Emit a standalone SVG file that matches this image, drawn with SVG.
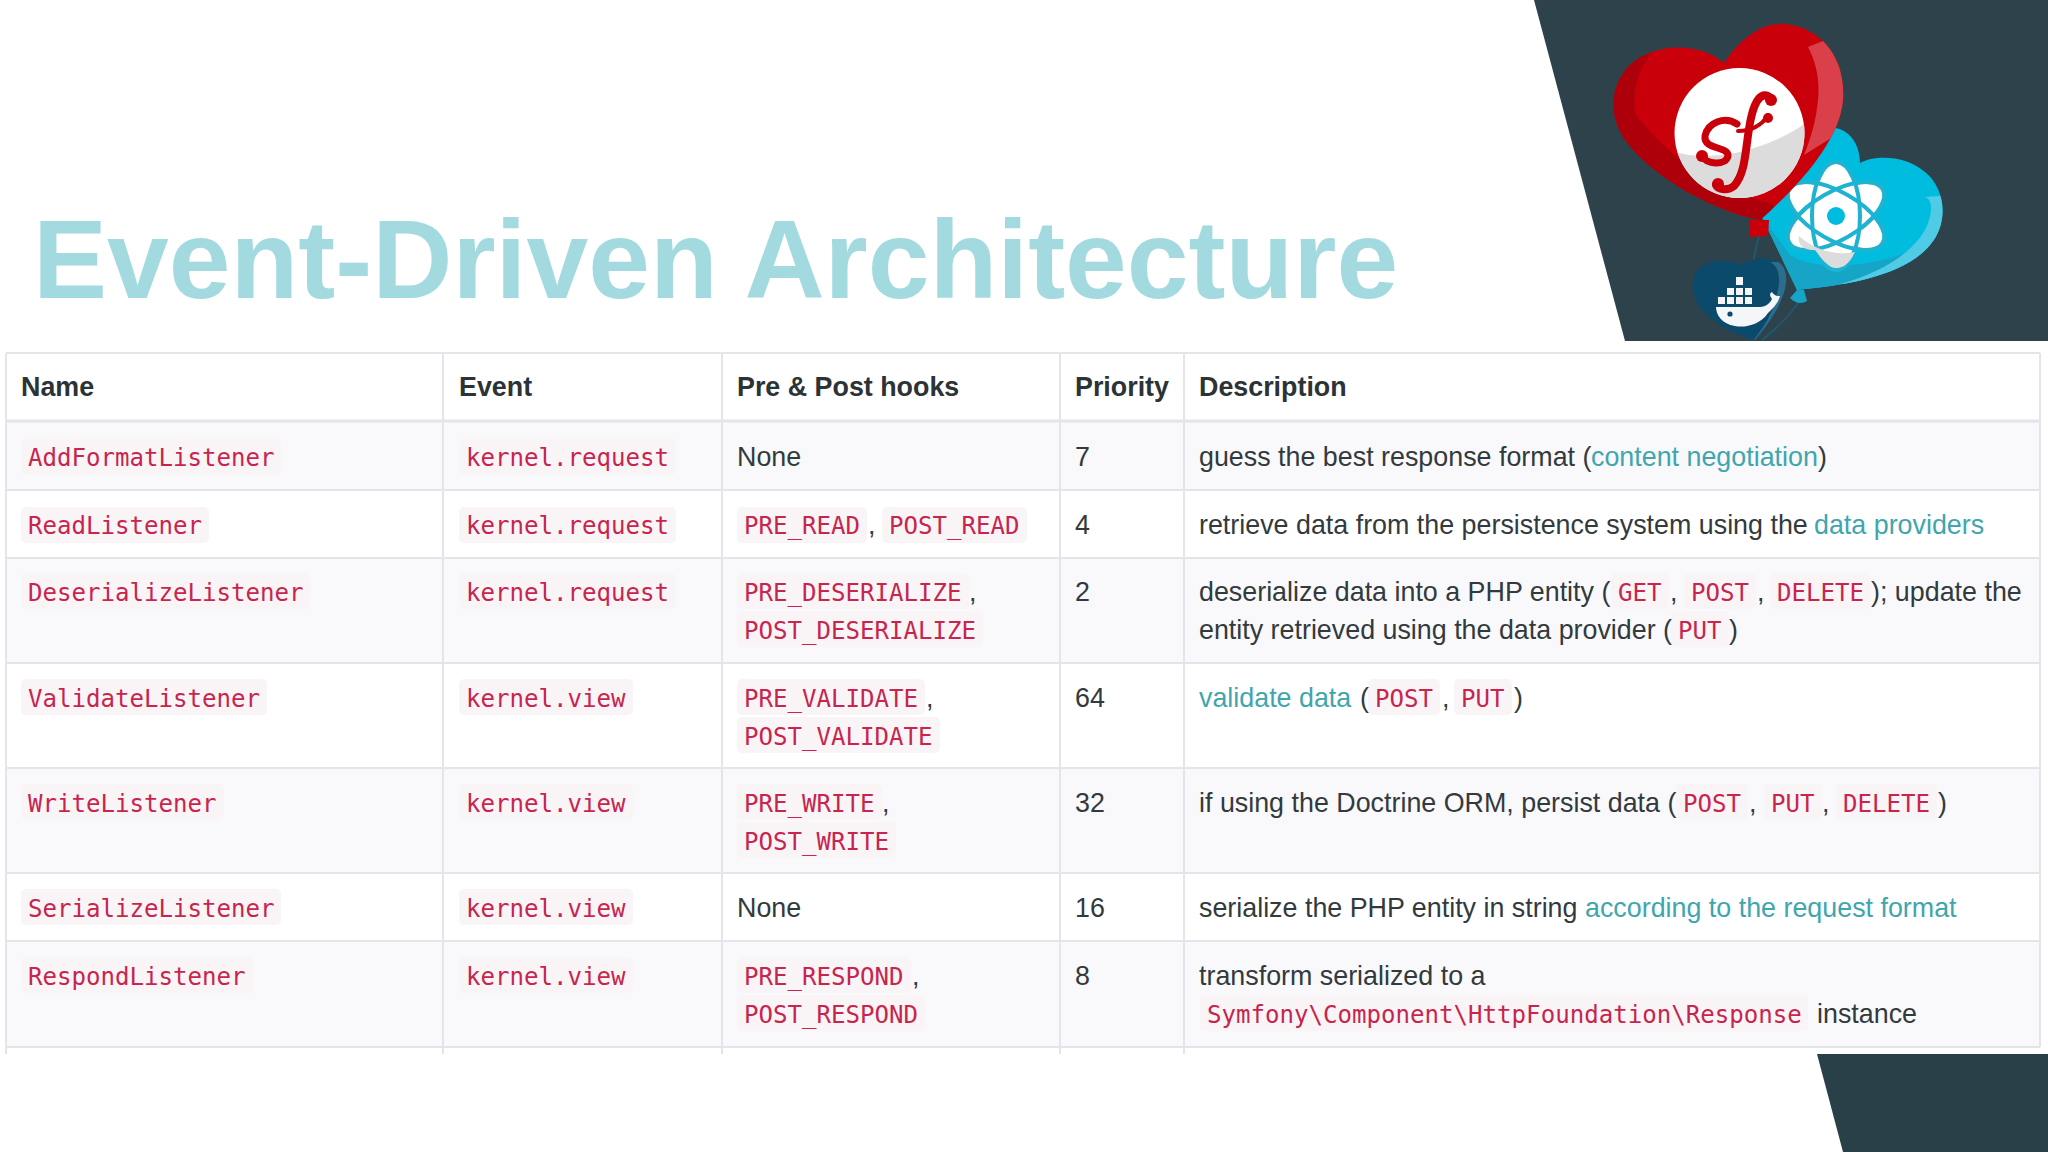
<svg xmlns="http://www.w3.org/2000/svg" width="2048" height="1152" viewBox="0 0 2048 1152">
<defs>
<style>
text{font-family:"Liberation Sans",Arial,sans-serif;font-size:26.85px;fill:#333a3d}
.h{font-weight:bold;fill:#2c3336}
.m{font-family:"DejaVu Sans Mono","Liberation Mono",monospace;font-size:24.1px;fill:#c7254e}
.l{fill:#3fa6ae}
.c{fill:#f9f5f7}
.g{fill:none;stroke:#e4e4ea;stroke-width:2}
.t{font-size:111px;font-weight:bold;fill:#a3dae0}
.p{fill:#2d424b}
</style>
<clipPath id="redClip"><path d="M1724 63C1745 32 1768 22 1785 24C1825 28 1846 62 1843 100C1840 140 1800 185 1760 220C1710 210 1650 175 1625 140C1608 115 1610 85 1630 65C1655 42 1700 42 1724 63Z"/></clipPath>
<clipPath id="sfClip"><circle cx="1739.5" cy="133" r="65"/></clipPath>
<clipPath id="blueClip"><path d="M1797 290L1762 217L1835 128C1850 130 1860 145 1860 163C1875 155 1905 155 1925 172C1947 190 1948 225 1930 245C1905 275 1850 285 1797 290Z"/></clipPath>
<clipPath id="dockClip"><path d="M1741 265C1750 258 1772 254 1782 265C1792 278 1785 305 1755 340C1735 335 1705 320 1696 300C1688 282 1695 265 1712 262C1722 260 1733 260 1741 265Z"/></clipPath>
</defs>
<rect width="2048" height="1152" fill="#fff"/>

<g id="panels">
<path class="p" d="M1534 0H2048V341H1625Z"/>
<path class="p" d="M1817 1054H2048V1152H1843Z" style="fill:#2a4048"/>
</g>

<g id="balloons">
<path d="M1760 232C1750 270 1745 300 1752 340M1800 300C1790 315 1775 330 1762 340" fill="none" stroke="#24566e" stroke-width="2"/>
<g id="docker-balloon">
<path d="M1741 265C1750 258 1772 254 1782 265C1792 278 1785 305 1755 340C1735 335 1705 320 1696 300C1688 282 1695 265 1712 262C1722 260 1733 260 1741 265Z" fill="#0b4a6b"/>
<g clip-path="url(#dockClip)"><path d="M1770 262C1782 268 1780 285 1776 298C1772 315 1762 330 1752 342L1790 342L1800 262Z" fill="#2c6c8c"/></g>
<path d="M1716 307H1760C1766 307 1770 303 1772 299C1769 295 1770 293 1772 292C1775 297 1780 296 1780 296C1778 304 1772 309 1768 313C1760 325 1745 328 1735 326C1722 324 1716 315 1716 307Z" fill="#f4f6f8"/>
<circle cx="1730" cy="314" r="2.6" fill="#0b4a6b"/>
<g fill="#f4f6f8">
<rect x="1718" y="297" width="7" height="7"/><rect x="1727" y="297" width="7" height="7"/><rect x="1736" y="297" width="7" height="7"/><rect x="1745" y="297" width="7" height="7"/>
<rect x="1727" y="288" width="7" height="7"/><rect x="1736" y="288" width="7" height="7"/><rect x="1745" y="288" width="7" height="7"/>
<rect x="1736" y="277" width="7" height="8"/>
</g>
</g>
<g id="react-balloon">
<path d="M1797 290L1762 217L1835 128C1850 130 1860 145 1860 163C1875 155 1905 155 1925 172C1947 190 1948 225 1930 245C1905 275 1850 285 1797 290Z" fill="#00bde0"/>
<g clip-path="url(#blueClip)">
<path d="M1762 217L1790 255C1815 270 1860 268 1900 255C1915 250 1925 245 1935 235L1950 300H1780Z" fill="#16a5c6"/>
<path d="M1925 197C1934 200 1932 215 1926 228C1915 250 1885 272 1840 284L1940 290L1955 195Z" fill="#4fcbe6"/>
</g>
<path d="M1797 290L1790 298C1796 304 1802 304 1807 301L1804 290Z" fill="#16a5c6"/>
<g fill="#fff" stroke="#1eb3d0" stroke-width="4">
<ellipse cx="1836" cy="216" rx="54" ry="24" transform="rotate(30 1836 216)"/>
<ellipse cx="1836" cy="216" rx="54" ry="24" transform="rotate(-30 1836 216)"/>
<ellipse cx="1836" cy="216" rx="24" ry="54"/>
</g>
<g fill="none" stroke="#1eb3d0" stroke-width="4">
<ellipse cx="1836" cy="216" rx="54" ry="24" transform="rotate(30 1836 216)"/>
<ellipse cx="1836" cy="216" rx="54" ry="24" transform="rotate(-30 1836 216)"/>
</g>
<path d="M1799 236C1815 250 1835 256 1855 252C1850 262 1845 268 1836 268C1825 266 1820 256 1815 250C1805 250 1797 246 1799 236Z" fill="#dcdcdc"/>
<circle cx="1836" cy="216" r="9" fill="#00bde0"/>
</g>
<g id="symfony-balloon">
<path d="M1749 220H1769L1768 236L1750 237Z" fill="#c9000a"/>
<path d="M1724 63C1745 32 1768 22 1785 24C1825 28 1846 62 1843 100C1840 140 1800 185 1760 220C1710 210 1650 175 1625 140C1608 115 1610 85 1630 65C1655 42 1700 42 1724 63Z" fill="#c9000a"/>
<g clip-path="url(#redClip)">
<path d="M1600 50L1650 55C1635 75 1632 100 1636 115C1660 145 1700 185 1775 205L1755 230L1600 180Z" fill="#ae000a"/>
<path d="M1808 47C1816 62 1820 80 1818 100C1816 120 1812 135 1804 155L1860 120L1850 30Z" fill="#d9404a"/>
</g>
<circle cx="1739.5" cy="133" r="65" fill="#fff"/>
<g clip-path="url(#sfClip)"><path d="M1670 150C1710 165 1770 150 1810 120V210H1670Z" fill="#dcdcdc"/></g>
<g fill="none" stroke="#c9000a" stroke-linecap="round">
<path d="M1771 98C1762 90 1755 100 1751 118C1745 145 1747 172 1734 186C1728 191 1718 190 1716 185" stroke-width="8"/>
<path d="M1737 124C1725 116 1708 122 1705 136C1703 150 1729 146 1728 156C1726 166 1706 165 1701 155" stroke-width="7"/>
<path d="M1738 131C1750 131 1762 126 1768 115" stroke-width="4"/>
</g>
<g fill="#c9000a"><circle cx="1771" cy="100" r="6"/><circle cx="1768" cy="118" r="5"/><circle cx="1702" cy="156" r="6"/><circle cx="1718" cy="184" r="6"/></g>
</g>
</g>

<text class="t" x="33" y="298">Event-Driven Architecture</text>

<g id="table">
<rect x="6" y="421" width="2034" height="69" fill="#f9f9fb"/>
<rect x="6" y="558" width="2034" height="105" fill="#f9f9fb"/>
<rect x="6" y="768" width="2034" height="105" fill="#f9f9fb"/>
<rect x="6" y="941" width="2034" height="106" fill="#f9f9fb"/>
<path class="g" d="M6 353H2040M6 490H2040M6 558H2040M6 663H2040M6 768H2040M6 873H2040M6 941H2040M6 1047H2040"/>
<path class="g" style="stroke-width:3" d="M6 421H2040"/>
<path class="g" d="M6 353V1054M443 353V1054M722 353V1054M1060 353V1054M1184 353V1054M2040 353V1047"/>
</g>

<g id="chips">
<rect class="c" x="21" y="439" width="260" height="36" rx="5"/><rect class="c" x="459" y="439" width="217" height="36" rx="5"/>
<rect class="c" x="21" y="507" width="188" height="36" rx="5"/><rect class="c" x="459" y="507" width="217" height="36" rx="5"/>
<rect class="c" x="737" y="507" width="130" height="36" rx="5"/><rect class="c" x="882" y="507" width="145" height="36" rx="5"/>
<rect class="c" x="21" y="573" width="289" height="36" rx="5"/><rect class="c" x="459" y="573" width="217" height="36" rx="5"/>
<rect class="c" x="737" y="573" width="232" height="36" rx="5"/><rect class="c" x="737" y="611" width="246" height="36" rx="5"/>
<rect class="c" x="1611" y="573" width="58" height="36" rx="5"/><rect class="c" x="1684" y="573" width="72" height="36" rx="5"/><rect class="c" x="1770" y="573" width="101" height="36" rx="5"/><rect class="c" x="1671" y="611" width="58" height="36" rx="5"/>
<rect class="c" x="21" y="679" width="246" height="36" rx="5"/><rect class="c" x="459" y="679" width="174" height="36" rx="5"/>
<rect class="c" x="737" y="679" width="188" height="36" rx="5"/><rect class="c" x="737" y="717" width="203" height="36" rx="5"/>
<rect class="c" x="1368" y="679" width="72" height="36" rx="5"/><rect class="c" x="1454" y="679" width="58" height="36" rx="5"/>
<rect class="c" x="21" y="784" width="203" height="36" rx="5"/><rect class="c" x="459" y="784" width="174" height="36" rx="5"/>
<rect class="c" x="737" y="784" width="145" height="36" rx="5"/><rect class="c" x="737" y="822" width="159" height="36" rx="5"/>
<rect class="c" x="1676" y="784" width="72" height="36" rx="5"/><rect class="c" x="1764" y="784" width="58" height="36" rx="5"/><rect class="c" x="1836" y="784" width="101" height="36" rx="5"/>
<rect class="c" x="21" y="889" width="260" height="36" rx="5"/><rect class="c" x="459" y="889" width="174" height="36" rx="5"/>
<rect class="c" x="21" y="957" width="232" height="36" rx="5"/><rect class="c" x="459" y="957" width="174" height="36" rx="5"/>
<rect class="c" x="737" y="957" width="174" height="36" rx="5"/><rect class="c" x="737" y="995" width="188" height="36" rx="5"/>
<rect class="c" x="1200" y="995" width="608" height="36" rx="5"/>
</g>

<g id="header">
<text class="h" x="21" y="396">Name</text><text class="h" x="459" y="396">Event</text><text class="h" x="737" y="396">Pre &amp; Post hooks</text><text class="h" x="1075" y="396">Priority</text><text class="h" x="1199" y="396">Description</text>
</g>
<g id="row1">
<text class="m" x="28" y="466">AddFormatListener</text><text class="m" x="466" y="466">kernel.request</text><text x="737" y="466">None</text><text x="1075" y="466">7</text>
<text x="1199" y="466">guess the best response format (</text><text class="l" x="1591" y="466">content negotiation</text><text x="1818" y="466">)</text>
</g>
<g id="row2">
<text class="m" x="28" y="534">ReadListener</text><text class="m" x="466" y="534">kernel.request</text><text class="m" x="744" y="534">PRE_READ</text><text x="868" y="534">,</text><text class="m" x="889" y="534">POST_READ</text><text x="1075" y="534">4</text>
<text x="1199" y="534">retrieve data from the persistence system using the</text><text class="l" x="1814" y="534">data providers</text>
</g>
<g id="row3">
<text class="m" x="28" y="601">DeserializeListener</text><text class="m" x="466" y="601">kernel.request</text><text class="m" x="744" y="601">PRE_DESERIALIZE</text><text x="969" y="601">,</text><text class="m" x="744" y="639">POST_DESERIALIZE</text><text x="1075" y="601">2</text>
<text x="1199" y="601">deserialize data into a PHP entity (</text><text class="m" x="1618" y="601">GET</text><text x="1670" y="601">,</text><text class="m" x="1691" y="601">POST</text><text x="1757" y="601">,</text><text class="m" x="1777" y="601">DELETE</text><text x="1871" y="601">); update the</text>
<text x="1199" y="639">entity retrieved using the data provider (</text><text class="m" x="1678" y="639">PUT</text><text x="1729" y="639">)</text>
</g>
<g id="row4">
<text class="m" x="28" y="707">ValidateListener</text><text class="m" x="466" y="707">kernel.view</text><text class="m" x="744" y="707">PRE_VALIDATE</text><text x="926" y="707">,</text><text class="m" x="744" y="745">POST_VALIDATE</text><text x="1075" y="707">64</text>
<text class="l" x="1199" y="707">validate data</text><text x="1360" y="707">(</text><text class="m" x="1375" y="707">POST</text><text x="1442" y="707">,</text><text class="m" x="1461" y="707">PUT</text><text x="1514" y="707">)</text>
</g>
<g id="row5">
<text class="m" x="28" y="812">WriteListener</text><text class="m" x="466" y="812">kernel.view</text><text class="m" x="744" y="812">PRE_WRITE</text><text x="882" y="812">,</text><text class="m" x="744" y="850">POST_WRITE</text><text x="1075" y="812">32</text>
<text x="1199" y="812">if using the Doctrine ORM, persist data (</text><text class="m" x="1683" y="812">POST</text><text x="1749" y="812">,</text><text class="m" x="1771" y="812">PUT</text><text x="1822" y="812">,</text><text class="m" x="1843" y="812">DELETE</text><text x="1938" y="812">)</text>
</g>
<g id="row6">
<text class="m" x="28" y="917">SerializeListener</text><text class="m" x="466" y="917">kernel.view</text><text x="737" y="917">None</text><text x="1075" y="917">16</text>
<text x="1199" y="917">serialize the PHP entity in string</text><text class="l" x="1585" y="917">according to the request format</text>
</g>
<g id="row7">
<text class="m" x="28" y="985">RespondListener</text><text class="m" x="466" y="985">kernel.view</text><text class="m" x="744" y="985">PRE_RESPOND</text><text x="912" y="985">,</text><text class="m" x="744" y="1023">POST_RESPOND</text><text x="1075" y="985">8</text>
<text x="1199" y="985">transform serialized to a</text><text class="m" x="1207" y="1023">Symfony\Component\HttpFoundation\Response</text><text x="1817" y="1023">instance</text>
</g>
</svg>
